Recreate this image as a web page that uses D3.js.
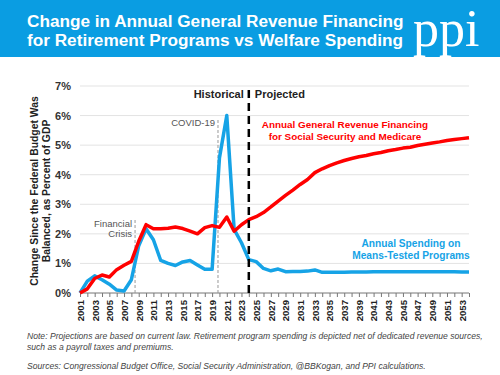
<!DOCTYPE html>
<html>
<head>
<meta charset="utf-8">
<script src="https://cdn.jsdelivr.net/npm/d3@7"></script>
<style>
  body { margin: 0; background: #fff; }
  svg { display: block; font-family: "Liberation Sans", Arial, sans-serif; }
</style>
</head>
<body>
<div id="chart"></div>
<script>
// data (% of GDP)
var years = d3.range(2001, 2055);

var retirement = [0, 0.14, 0.49, 0.61, 0.54, 0.79, 0.94, 1.07, 1.75, 2.31,
  2.17, 2.17, 2.19, 2.23, 2.18, 2.09, 2.0, 2.21, 2.28, 2.22,
  2.57, 2.09, 2.31, 2.48, 2.58, 2.72, 2.91, 3.11, 3.3, 3.48,
  3.67, 3.84, 4.07, 4.2, 4.31, 4.4, 4.48, 4.55, 4.61, 4.65,
  4.71, 4.75, 4.81, 4.85, 4.9, 4.93, 4.99, 5.03, 5.07, 5.11,
  5.16, 5.19, 5.22, 5.25];

var meansTested = [0, 0.4, 0.58, 0.45, 0.3, 0.1, 0.07, 0.45, 1.6, 2.17,
  1.8, 1.1, 1.0, 0.93, 1.05, 1.1, 0.95, 0.8, 0.8, 4.57,
  6.0, 2.15, 1.7, 1.13, 1.06, 0.83, 0.75, 0.81, 0.72, 0.73,
  0.73, 0.74, 0.78, 0.7, 0.7, 0.7, 0.7, 0.71, 0.71, 0.71,
  0.72, 0.72, 0.72, 0.72, 0.72, 0.72, 0.72, 0.72, 0.72, 0.72,
  0.72, 0.72, 0.71, 0.71];

var yTicks = [0, 1, 2, 3, 4, 5, 6, 7];
var xLabelYears = d3.range(2001, 2054, 2);

var events = [
  { year: 2008.5, top: 2.48, label: ["Financial", "Crisis"] },
  { year: 2019.8, top: 5.88, label: ["COVID-19"] }
];
var projectionStart = 2024;

var width = 500,
    height = 375;

var svg = d3.select("#chart")
  .append("svg")
  .attr("width", width)
  .attr("height", height);

// title banner
svg.append("rect")
  .attr("width", width)
  .attr("height", 57)
  .attr("fill", "#0a9de2");

var title = svg.append("text")
  .attr("fill", "#fff")
  .attr("font-weight", "bold")
  .attr("font-size", 17.2);
title.append("tspan").attr("x", 27).attr("y", 27).text("Change in Annual General Revenue Financing");
title.append("tspan").attr("x", 27).attr("y", 46).text("for Retirement Programs vs Welfare Spending");

svg.append("text")
  .attr("x", 413)
  .attr("y", 46)
  .attr("fill", "#fff")
  .attr("font-family", "'Liberation Serif', 'DejaVu Serif', serif")
  .attr("font-size", 52)
  .text("ppi");

var x = d3.scaleLinear().domain([2001, 2054]).range([80, 469]);
var y = d3.scaleLinear().domain([0, 7]).range([293, 86]);

// gridlines
svg.append("g")
  .selectAll("line")
  .data(yTicks.slice(1))
  .enter().append("line")
  .attr("x1", x(2001))
  .attr("x2", x(2054))
  .attr("y1", function(d) { return y(d) })
  .attr("y2", function(d) { return y(d) })
  .attr("stroke", "#e3e3e3")
  .attr("stroke-width", 1);

// y axis labels
svg.append("g")
  .selectAll("text")
  .data(yTicks)
  .enter().append("text")
  .attr("x", 71)
  .attr("y", function(d) { return y(d) + 4 })
  .attr("text-anchor", "end")
  .attr("font-size", 11)
  .attr("font-weight", "bold")
  .attr("fill", "#333")
  .text(function(d) { return d + "%" });

var yTitle = svg.append("text")
  .attr("transform", "translate(38,191) rotate(-90)")
  .attr("text-anchor", "middle")
  .attr("font-size", 10.4)
  .attr("font-weight", "bold")
  .attr("fill", "#222");
yTitle.append("tspan").attr("x", 0).attr("y", 0).text("Change Since the Federal Budget Was");
yTitle.append("tspan").attr("x", 0).attr("y", 12).text("Balanced, as Percent of GDP");

// x axis
var xAxis = d3.axisBottom(x)
  .tickValues(years)
  .tickSize(4)
  .tickFormat(function(d) { return xLabelYears.indexOf(d) >= 0 ? d : "" });

var gx = svg.append("g")
  .attr("transform", "translate(0," + y(0) + ")")
  .call(xAxis);
gx.select(".domain").attr("stroke", "#777").attr("d", "M" + x(2001) + ",0H" + x(2054));
gx.selectAll(".tick line").attr("stroke", "#777");
gx.selectAll(".tick text")
  .attr("transform", "rotate(-90)")
  .attr("x", -7)
  .attr("y", 0)
  .attr("dy", "0.35em")
  .attr("text-anchor", "end")
  .attr("font-family", "'Liberation Sans', Arial, sans-serif")
  .attr("font-size", 9.6)
  .attr("font-weight", "bold")
  .attr("fill", "#222");

// event markers
events.forEach(function(e) {
  svg.append("line")
    .attr("x1", x(e.year)).attr("x2", x(e.year))
    .attr("y1", y(0)).attr("y2", y(e.top))
    .attr("stroke", "#999")
    .attr("stroke-width", 1)
    .attr("stroke-dasharray", "3,2");
  var t = svg.append("text")
    .attr("text-anchor", "end")
    .attr("font-size", 9.5)
    .attr("fill", "#555");
  e.label.forEach(function(s, i) {
    t.append("tspan")
      .attr("x", x(e.year) - 3)
      .attr("y", y(e.top) + 7 + i * 10.5)
      .text(s);
  });
});

// lines
var line = d3.line()
  .x(function(d) { return x(d[0]) })
  .y(function(d) { return y(d[1]) });

svg.append("path")
  .datum(d3.zip(years, meansTested))
  .attr("d", line)
  .attr("fill", "none")
  .attr("stroke", "#16a3e6")
  .attr("stroke-width", 3.5)
  .attr("stroke-linejoin", "round");

svg.append("path")
  .datum(d3.zip(years, retirement))
  .attr("d", line)
  .attr("fill", "none")
  .attr("stroke", "#ff0000")
  .attr("stroke-width", 3.5)
  .attr("stroke-linejoin", "round");

// historical / projected divider
svg.append("line")
  .attr("x1", x(projectionStart)).attr("x2", x(projectionStart))
  .attr("y1", y(0)).attr("y2", y(7))
  .attr("stroke", "#000")
  .attr("stroke-width", 2.5)
  .attr("stroke-dasharray", "8,5");

svg.append("text")
  .attr("x", x(projectionStart) - 5)
  .attr("y", 98)
  .attr("text-anchor", "end")
  .attr("font-size", 11)
  .attr("font-weight", "bold")
  .attr("fill", "#222")
  .text("Historical");

svg.append("text")
  .attr("x", x(projectionStart) + 6)
  .attr("y", 98)
  .attr("font-size", 11)
  .attr("font-weight", "bold")
  .attr("fill", "#222")
  .text("Projected");

// series annotations
var redLabel = svg.append("text")
  .attr("text-anchor", "middle")
  .attr("font-size", 9.9)
  .attr("font-weight", "bold")
  .attr("fill", "#ff0000");
redLabel.append("tspan").attr("x", 345).attr("y", 128).text("Annual General Revenue Financing");
redLabel.append("tspan").attr("x", 345).attr("y", 140).text("for Social Security and Medicare");

var blueLabel = svg.append("text")
  .attr("text-anchor", "middle")
  .attr("font-size", 10.2)
  .attr("font-weight", "bold")
  .attr("fill", "#16a3e6");
blueLabel.append("tspan").attr("x", 411).attr("y", 247).text("Annual Spending on");
blueLabel.append("tspan").attr("x", 411).attr("y", 259).text("Means-Tested Programs");

// notes
var notes = svg.append("text")
  .attr("font-size", 8.6)
  .attr("font-style", "italic")
  .attr("fill", "#444");
notes.append("tspan").attr("x", 27).attr("y", 339)
  .text("Note: Projections are based on current law. Retirement program spending is depicted net of dedicated revenue sources,");
notes.append("tspan").attr("x", 27).attr("y", 350)
  .text("such as a payroll taxes and premiums.");
notes.append("tspan").attr("x", 27).attr("y", 369)
  .text("Sources: Congressional Budget Office, Social Security Administration, @BBKogan, and PPI calculations.");
</script>
</body>
</html>
